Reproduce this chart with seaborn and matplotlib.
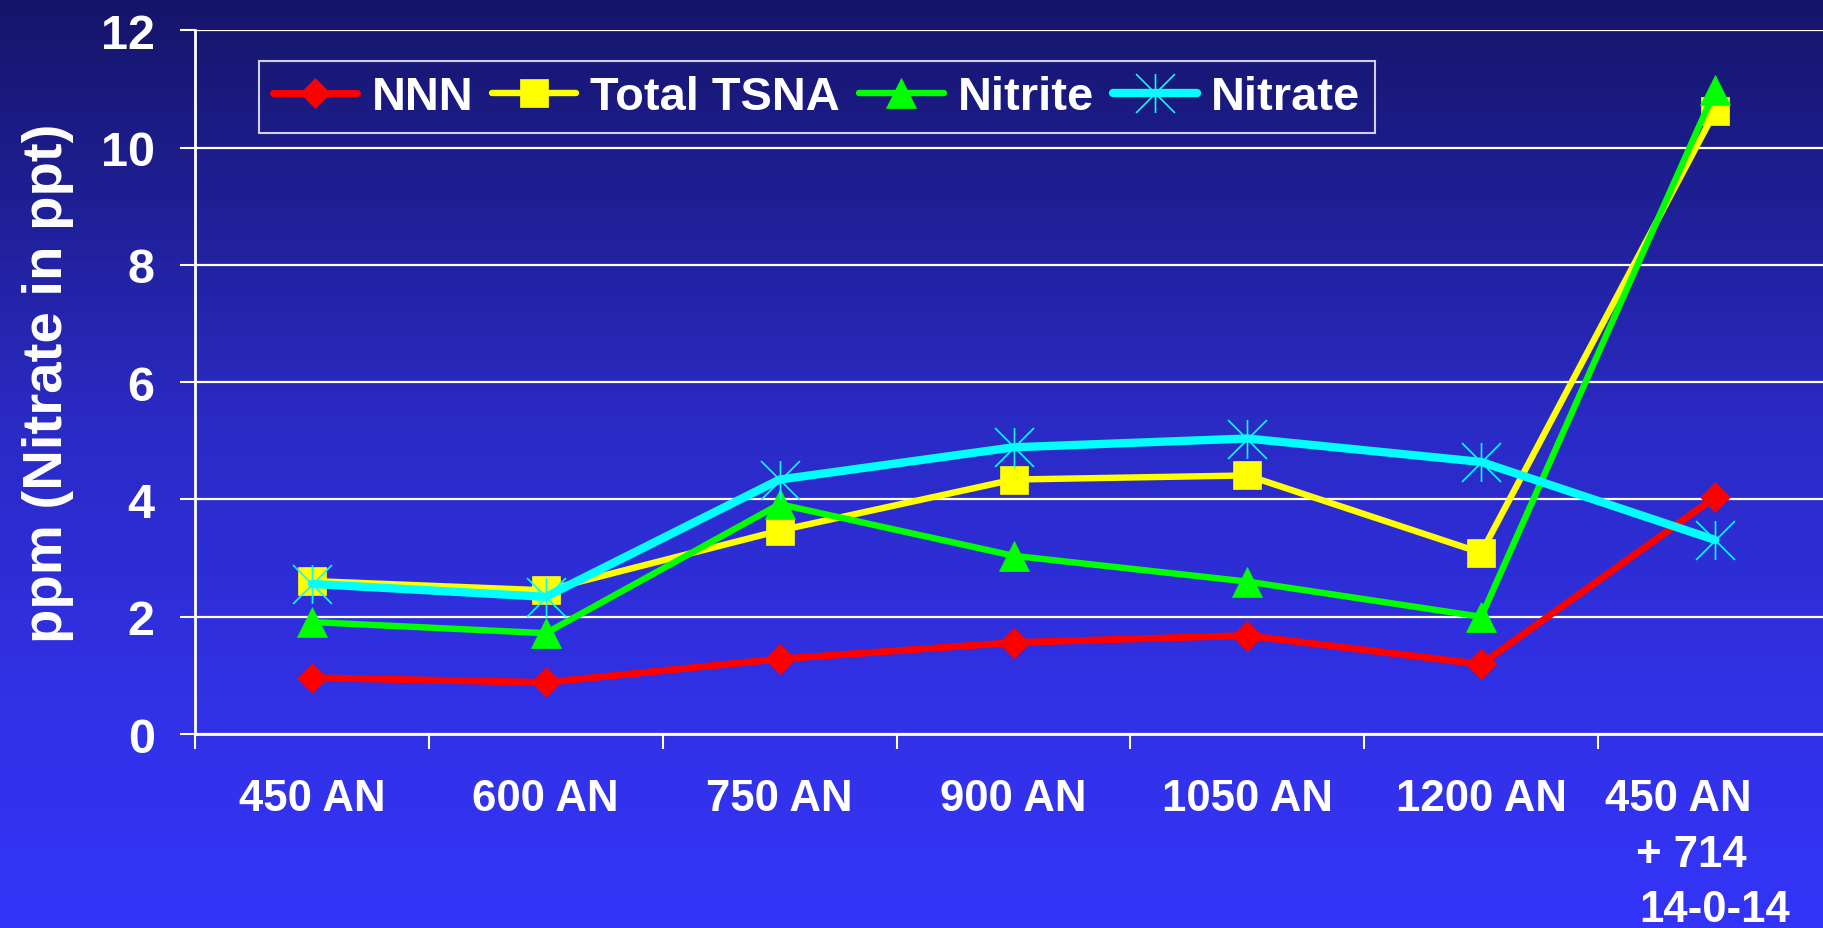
import numpy as np
import matplotlib
matplotlib.use('Agg')
import matplotlib.pyplot as plt
from matplotlib.path import Path
from matplotlib.colors import LinearSegmentedColormap
import seaborn as sns

# --- data ---
categories = ['450 AN', '600 AN', '750 AN', '900 AN', '1050 AN', '1200 AN',
              '450 AN      \n+ 714    \n14-0-14']
nnn = [0.96, 0.88, 1.28, 1.56, 1.68, 1.19, 4.04]
total_tsna = [2.61, 2.45, 3.47, 4.34, 4.41, 3.09, 10.62]
nitrite = [1.91, 1.72, 3.92, 3.04, 2.60, 2.00, 10.98]
nitrate = [2.56, 2.34, 4.34, 4.89, 5.04, 4.64, 3.31]

sns.set_theme(style='white')
plt.rcParams['font.family'] = ['Liberation Sans', 'DejaVu Sans']
plt.rcParams['font.weight'] = 'bold'

fig = plt.figure(figsize=(18.24, 9.29), dpi=100)

# blue gradient background like the slide
bg = fig.add_axes([0, 0, 1, 1], zorder=0)
cmap = LinearSegmentedColormap.from_list(
    'slide', [(0, '#3434f8'), (0.25, '#3131e6'), (0.55, '#2a2ac4'), (1, '#15156a')])
bg.imshow(np.linspace(0, 1, 256).reshape(-1, 1), cmap=cmap, aspect='auto',
          extent=[0, 1, 0, 1], origin='lower')
bg.axis('off')

ax = fig.add_axes([0.1069, 0.2088, 0.8975, 0.7574], zorder=1)
ax.patch.set_alpha(0)

# asterisk marker: vertical bar plus an X
star = Path([(0, -1), (0, 1), (-1, -1), (1, 1), (-1, 1), (1, -1)],
            [Path.MOVETO, Path.LINETO] * 3)

x = np.arange(len(categories))
series = [
    ('NNN', nnn, '#ff0000', 'D', 15, 5.0),
    ('Total TSNA', total_tsna, '#ffff00', 's', 19.5, 4.6),
    ('Nitrite', nitrite, '#00ff00', '^', 21.5, 4.6),
    ('Nitrate', nitrate, '#00ffff', star, 28, 6.0),
]
for name, vals, color, mk, ms, lw in series:
    if mk is star:
        sns.lineplot(x=x, y=vals, ax=ax, color=color, lw=lw, marker=mk, ms=ms,
                     mec=color, mfc='none', mew=1.2, label=name)
    else:
        sns.lineplot(x=x, y=vals, ax=ax, color=color, lw=lw, marker=mk, ms=ms,
                     mec=color, mfc=color, mew=0.5, label=name)

ax.set_xlim(-0.5, 6.5)
ax.set_ylim(0, 12)
ax.set_yticks(range(0, 13, 2))
ax.set_xticks(x)
ax.set_xticklabels(categories)
ax.set_xticks(np.arange(-0.5, 6.5, 1), minor=True)
ax.tick_params(axis='x', which='major', length=0, pad=32, labelsize=31.5,
               labelcolor='white')
ax.tick_params(axis='x', which='minor', length=11, width=1.5, color='white',
               direction='out', bottom=True)
ax.tick_params(axis='y', length=11, width=1.5, color='white', direction='out',
               left=True, pad=18, labelsize=35, labelcolor='white')
for lbl in ax.get_xticklabels():
    lbl.set_linespacing(1.45)

ax.yaxis.grid(True, color='white', lw=1.6)
ax.xaxis.grid(False)
ax.set_axisbelow(True)
for side in ['top', 'right']:
    ax.spines[side].set_visible(False)
for side in ['left', 'bottom']:
    ax.spines[side].set_color('white')
    ax.spines[side].set_linewidth(2)

ax.set_xlabel('')
ax.set_ylabel('ppm (Nitrate in ppt)', fontsize=40.6, color='white', fontweight='bold')
ax.yaxis.set_label_coords(-0.0739, 0.5)

leg = ax.legend(loc='upper left', bbox_to_anchor=(0.039, 0.9566), ncol=4,
                frameon=True, fancybox=False, edgecolor='white', facecolor='none',
                fontsize=33.8, handlelength=1.8, handletextpad=0.3,
                columnspacing=0.4, borderpad=0.3, borderaxespad=0, numpoints=1)
leg.get_frame().set_linewidth(1.5)
for t in leg.get_texts():
    t.set_color('white')

fig.savefig('out.png', dpi=100)
